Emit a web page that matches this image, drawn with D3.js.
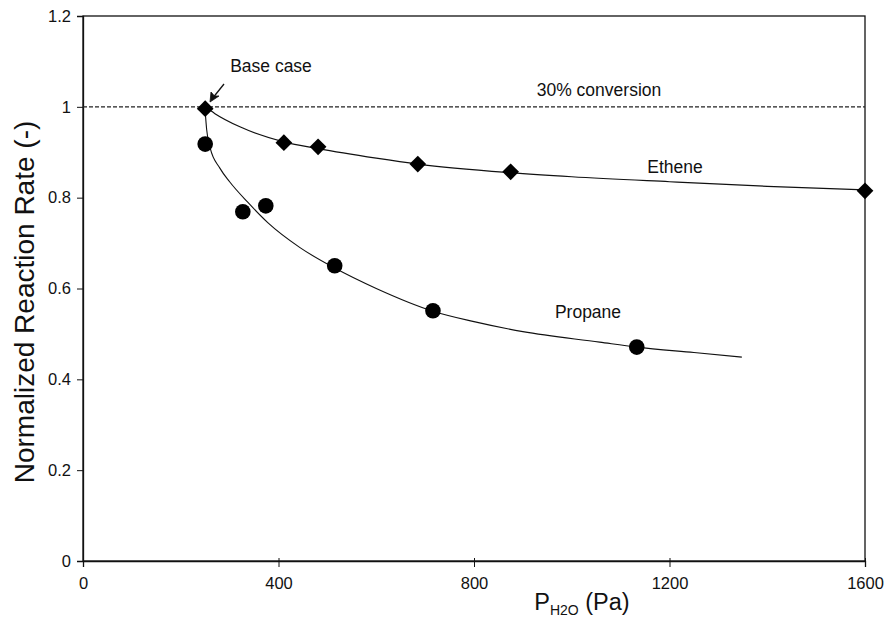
<!DOCTYPE html>
<html>
<head>
<meta charset="utf-8">
<script src="https://cdn.jsdelivr.net/npm/d3@7"></script>
<style>
  html, body { margin: 0; padding: 0; background: #fff; }
  svg { display: block; font-family: "Liberation Sans", Arial, Helvetica, sans-serif; }
</style>
</head>
<body>
<svg id="chart" width="886" height="618"></svg>
<script>
// ---- Data ----
const xTicks = [0, 400, 800, 1200, 1600];
const yTicks = [0, 0.2, 0.4, 0.6, 0.8, 1, 1.2];

const etheneX = [250, 411, 481, 685, 875, 1600];
const etheneY = [0.996, 0.921, 0.912, 0.874, 0.857, 0.815];

const propaneX = [250, 327, 374, 515, 716, 1133];
const propaneY = [0.918, 0.769, 0.782, 0.650, 0.551, 0.471];

// fitted (smooth) curves as drawn in the figure
const etheneFitX = [250, 270, 321, 411, 481, 600, 685, 875, 1000, 1200, 1400, 1600];
const etheneFitY = [1.0, 0.985, 0.956, 0.923, 0.908, 0.887, 0.874, 0.855, 0.846, 0.835, 0.825, 0.817];

const propaneFitX = [250, 253, 260, 280, 300, 337, 378, 444, 515, 600, 716, 800, 900, 1057, 1133, 1250, 1348];
const propaneFitY = [0.99, 0.95, 0.91, 0.865, 0.835, 0.79, 0.745, 0.69, 0.645, 0.60, 0.55, 0.527, 0.505, 0.482, 0.471, 0.459, 0.449];

const refLineY = 1;

// ---- Layout ----
const svg = d3.select("#chart");
const mLeft = 83, mRight = 865, mTop = 16, mBottom = 561;

const x = d3.scaleLinear().domain([0, 1600]).range([mLeft, mRight]);
const y = d3.scaleLinear().domain([0, 1.2]).range([mBottom, mTop]);

// frame
svg.append("rect")
  .attr("x", mLeft).attr("y", mTop)
  .attr("width", mRight - mLeft).attr("height", mBottom - mTop)
  .attr("fill", "none").attr("stroke", "#111").attr("stroke-width", 1.3);

// axes
const xAxis = d3.axisBottom(x).tickValues(xTicks).tickSize(6).tickPadding(10).tickFormat(d3.format("d"));
const yAxis = d3.axisLeft(y).tickValues(yTicks).tickSize(6).tickPadding(6).tickFormat(d => d3.format("~g")(d));

const gx = svg.append("g").attr("transform", `translate(0,${mBottom})`).call(xAxis);
const gy = svg.append("g").attr("transform", `translate(${mLeft},0)`).call(yAxis);
[gx, gy].forEach(g => {
  g.select(".domain").attr("stroke", "#111").attr("stroke-width", 1.3);
  g.selectAll(".tick line").attr("stroke", "#111").attr("stroke-width", 1);
  g.selectAll(".tick text").attr("fill", "#111").style("font-size", "16.5px")
    .style("font-family", "'Liberation Sans', Arial, sans-serif");
});
gx.selectAll(".tick line").attr("y1", -3);

// 30% conversion dashed line
svg.append("line")
  .attr("x1", x(0)).attr("x2", x(1600))
  .attr("y1", y(refLineY)).attr("y2", y(refLineY))
  .attr("stroke", "#222").attr("stroke-width", 1.1)
  .attr("stroke-dasharray", "4,2");

// fitted curves
const line = d3.line().x(d => x(d[0])).y(d => y(d[1])).curve(d3.curveMonotoneX);
svg.append("path")
  .datum(etheneFitX.map((v, i) => [v, etheneFitY[i]]))
  .attr("d", line).attr("fill", "none").attr("stroke", "#111").attr("stroke-width", 1.2);
svg.append("path")
  .datum(propaneFitX.map((v, i) => [v, propaneFitY[i]]))
  .attr("d", line).attr("fill", "none").attr("stroke", "#111").attr("stroke-width", 1.1);

// markers
svg.append("g").selectAll("circle")
  .data(propaneX.map((v, i) => [v, propaneY[i]]))
  .join("circle")
  .attr("cx", d => x(d[0])).attr("cy", d => y(d[1]))
  .attr("r", 7.8).attr("fill", "#000");

svg.append("g").selectAll("path")
  .data(etheneX.map((v, i) => [v, etheneY[i]]))
  .join("path")
  .attr("transform", d => `translate(${x(d[0])},${y(d[1])}) rotate(45)`)
  .attr("d", d3.symbol(d3.symbolSquare, 140))
  .attr("fill", "#000");

// annotations
const txt = (t, px, py, size, anchor) => svg.append("text")
  .attr("x", px).attr("y", py).attr("text-anchor", anchor || "start")
  .style("font-size", size + "px").attr("fill", "#111").text(t);

txt("Base case", 271, 72, 17.5, "middle");
txt("30% conversion", 599, 96, 17.5, "middle");
txt("Ethene", 675, 173, 17.5, "middle");
txt("Propane", 588, 318, 17.5, "middle");

// arrow from "Base case" label to base-case point
svg.append("line")
  .attr("x1", 224).attr("y1", 84).attr("x2", 212).attr("y2", 99)
  .attr("stroke", "#111").attr("stroke-width", 1.3);
svg.append("path")
  .attr("d", "M210,102 L211,92 L214.5,96 L219,96 Z")
  .attr("fill", "#111").attr("stroke", "#111").attr("stroke-width", 0.8);

// axis titles
svg.append("text")
  .attr("transform", `translate(34,${302}) rotate(-90)`)
  .attr("text-anchor", "middle")
  .style("font-size", "28px").attr("fill", "#111")
  .text("Normalized Reaction Rate (-)");

const xt = svg.append("text")
  .attr("x", 582).attr("y", 610).attr("text-anchor", "middle")
  .style("font-size", "23.5px").attr("fill", "#111");
xt.append("tspan").text("P");
xt.append("tspan").attr("dy", 5).style("font-size", "14px").text("H2O");
xt.append("tspan").attr("dy", -5).text(" (Pa)");
</script>
</body>
</html>
